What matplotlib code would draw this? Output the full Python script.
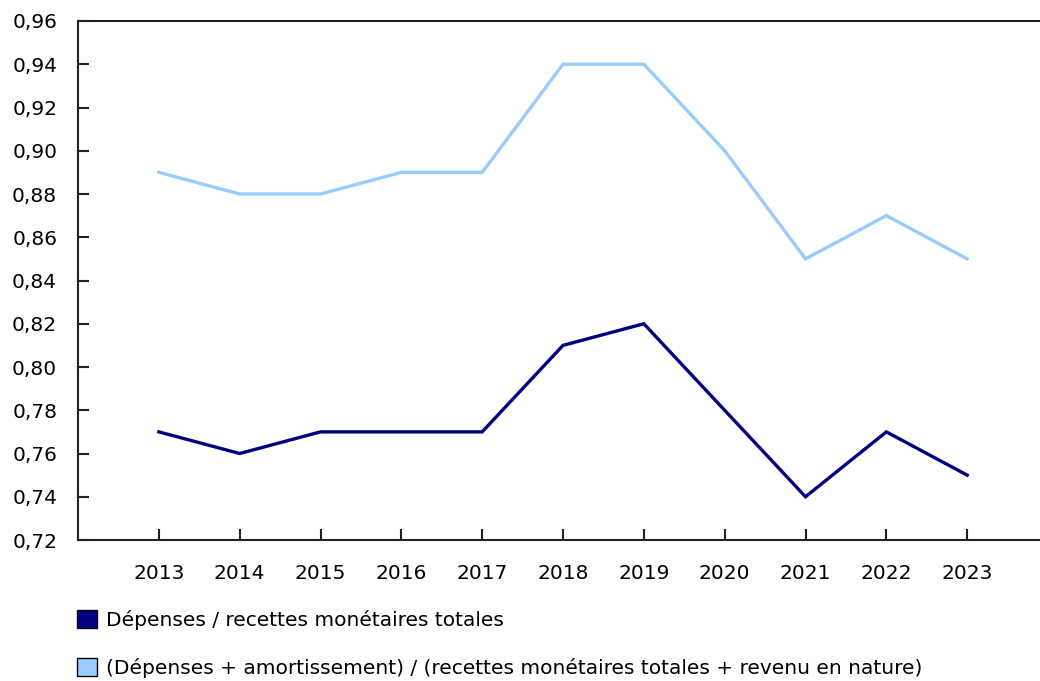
import numpy as np
import matplotlib
matplotlib.use("Agg")
import matplotlib.pyplot as plt
from matplotlib.patches import Patch
from matplotlib.ticker import FuncFormatter, MultipleLocator

# Données
YEARS = ["2013", "2014", "2015", "2016", "2017", "2018", "2019", "2020", "2021", "2022", "2023"]
RATIO_MONETAIRE = [0.77, 0.76, 0.77, 0.77, 0.77, 0.81, 0.82, 0.78, 0.74, 0.77, 0.75]
RATIO_AMORT = [0.89, 0.88, 0.88, 0.89, 0.89, 0.94, 0.94, 0.90, 0.85, 0.87, 0.85]

LABEL_MONETAIRE = "Dépenses / recettes monétaires totales"
LABEL_AMORT = "(Dépenses + amortissement) / (recettes monétaires totales + revenu en nature)"

DARK = "#000080"
LIGHT = "#99ccff"

plt.rcParams["font.family"] = ["DejaVu Sans"]
plt.rcParams["font.size"] = 14.5

fig = plt.figure(figsize=(10.4, 6.81), dpi=100)
ax = fig.add_axes([78 / 1040, 1 - 540 / 681, (1048 - 78) / 1040, (540 - 21) / 681])

x = np.arange(len(YEARS))
ax.plot(x, RATIO_MONETAIRE, color=DARK, linewidth=2.4, solid_joinstyle="miter")
ax.plot(x, RATIO_AMORT, color=LIGHT, linewidth=2.4, solid_joinstyle="miter")

ax.set_xlim(-1, len(YEARS))
ax.set_ylim(0.72, 0.96)
ax.set_xticks(x)
ax.set_xticklabels(YEARS)
ax.yaxis.set_major_locator(MultipleLocator(0.02))
ax.yaxis.set_major_formatter(FuncFormatter(lambda v, p: f"{v:.2f}".replace(".", ",")))

ax.spines["right"].set_visible(False)
for s in ["left", "bottom", "top"]:
    ax.spines[s].set_linewidth(1.5)
    ax.spines[s].set_color("#222222")

ax.tick_params(axis="x", direction="in", length=8, width=1.5, pad=17, colors="#222222")
ax.tick_params(axis="y", direction="in", length=8, width=1.5, pad=15, colors="#222222")
for lab in ax.get_xticklabels() + ax.get_yticklabels():
    lab.set_color("black")

handles = [
    Patch(facecolor=DARK, edgecolor="black", linewidth=1),
    Patch(facecolor=LIGHT, edgecolor="black", linewidth=1),
]
fig.legend(
    handles,
    [LABEL_MONETAIRE, LABEL_AMORT],
    loc="upper left",
    bbox_to_anchor=(77 / 1040, 1 - 610 / 681),
    frameon=False,
    handlelength=1.0,
    handleheight=1.0,
    handletextpad=0.45,
    labelspacing=1.4,
    borderpad=0,
    borderaxespad=0,
)

fig.savefig("out.png", dpi=100)
